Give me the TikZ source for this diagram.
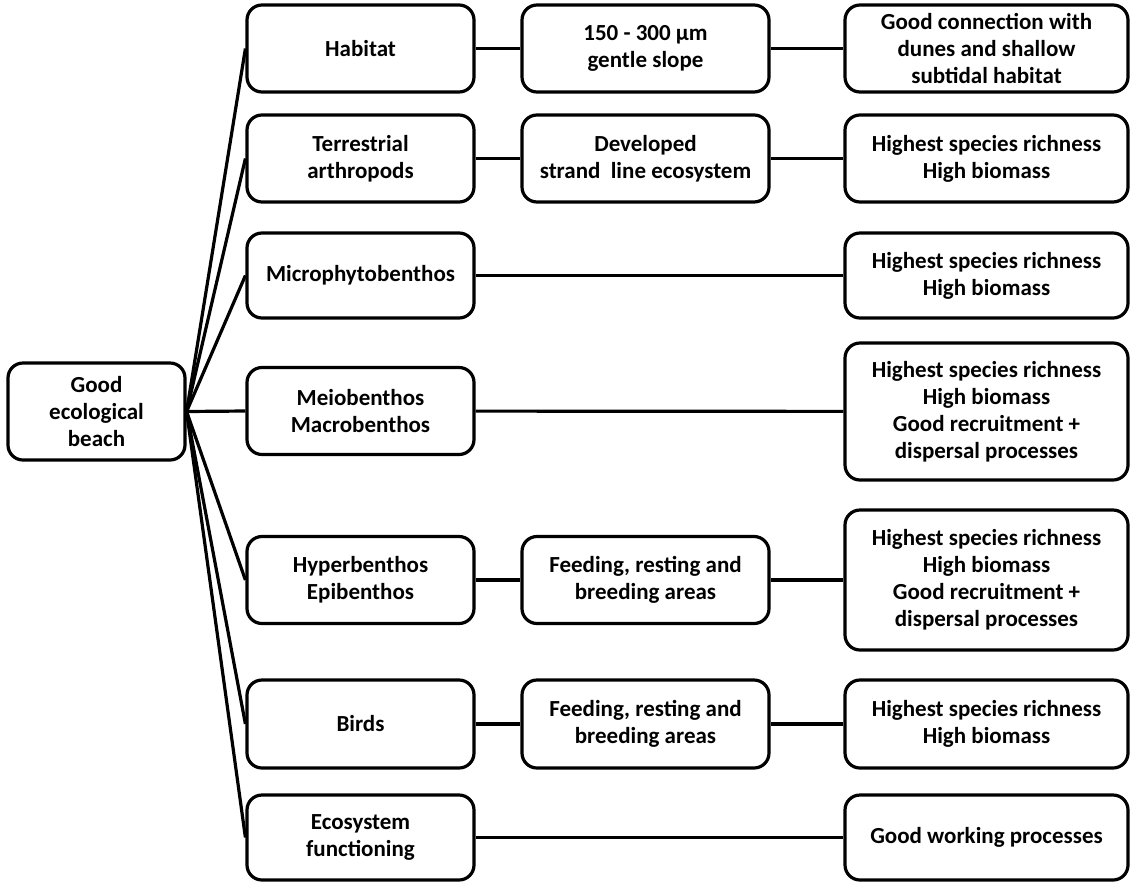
\documentclass[tikz,border=0pt]{standalone}
\usepackage{fontspec}
\setmainfont{Carlito}
\begin{document}
\begin{tikzpicture}[x=1pt,y=-1pt,
  box/.style={draw,line width=3.2pt,rounded corners=15pt,align=center,inner sep=0pt,
    font=\fontsize{23}{27}\selectfont\bfseries},
  c1/.style={box,minimum width=227pt,minimum height=87pt},
  c2/.style={box,minimum width=247pt,minimum height=87pt},
  c3/.style={box,minimum width=283pt,minimum height=87pt},
  link/.style={line width=3.2pt}]
\useasboundingbox (0,0) rectangle (1134,884);
\node[box,minimum width=177pt,minimum height=97pt] (root) at (96.5,411.5) {Good\\ecological\\beach};

\node[c1] (a1) at (360.5,48.5) {Habitat};
\node[c2] (a2) at (645.5,48.5) {150 - 300 µm\\gentle slope};
\node[c3] (a3) at (986.5,48.5) {Good connection with\\dunes and shallow\\subtidal habitat};

\node[c1] (b1) at (360.5,158.5) {Terrestrial\\arthropods};
\node[c2] (b2) at (645.5,158.5) {Developed\\strand\ \ line ecosystem};
\node[c3] (b3) at (986.5,158.5) {Highest species richness\\High biomass};

\node[c1,minimum height=85pt] (m1) at (360.5,275.5) {Microphytobenthos};
\node[c3,minimum height=85pt] (m3) at (986.5,275.5) {Highest species richness\\High biomass};

\node[c1] (d1) at (360.5,411) {Meiobenthos\\Macrobenthos};
\node[c3,minimum height=137pt] (d3) at (986.5,411.5) {Highest species richness\\High biomass\\Good recruitment +\\dispersal processes};

\node[c1] (h1) at (360.5,580) {Hyperbenthos\\Epibenthos};
\node[c2] (h2) at (645.5,580) {Feeding, resting and\\breeding areas};
\node[c3,minimum height=140pt] (h3) at (986.5,580) {Highest species richness\\High biomass\\Good recruitment +\\dispersal processes};

\node[c1,minimum height=88pt] (r1) at (360.5,724) {Birds};
\node[c2,minimum height=88pt] (r2) at (645.5,724) {Feeding, resting and\\breeding areas};
\node[c3,minimum height=88pt] (r3) at (986.5,724) {Highest species richness\\High biomass};

\node[c1,minimum height=85pt] (e1) at (360.5,837.5) {Ecosystem\\functioning};
\node[c3,minimum height=85pt] (e3) at (986.5,837.5) {Good working processes};

\foreach \n in {a1,b1,m1,d1,h1,r1,e1}
  \draw[link] (root.east) -- (\n.west);
\draw[link] (a1) -- (a2) (a2) -- (a3);
\draw[link] (b1) -- (b2) (b2) -- (b3);
\draw[link] (m1) -- (m3);
\draw[link] (d1) -- (d3);
\draw[link] (h1) -- (h2) (h2) -- (h3);
\draw[link] (r1) -- (r2) (r2) -- (r3);
\draw[link] (e1) -- (e3);
\end{tikzpicture}
\end{document}
